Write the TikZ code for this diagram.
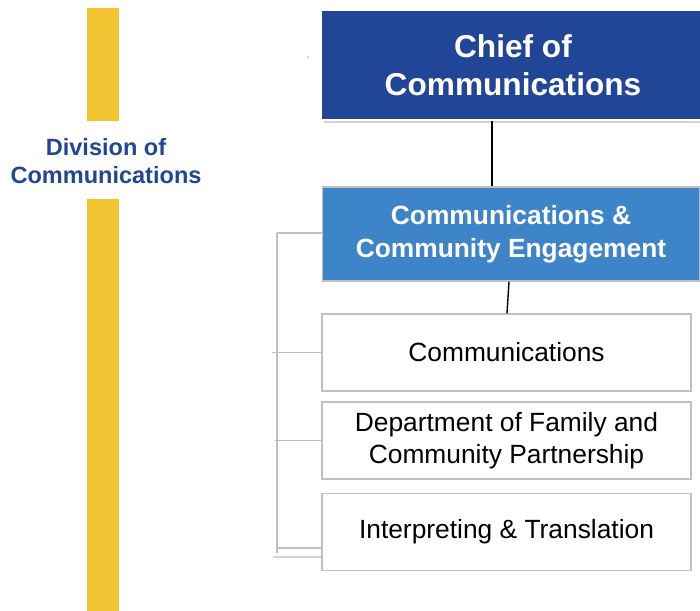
\documentclass[tikz,border=0pt]{standalone}
\usepackage{fontspec}
\setmainfont{Liberation Sans}
\usetikzlibrary{positioning,shadows}

\definecolor{chiefblue}{RGB}{33,70,152}
\definecolor{engblue}{RGB}{62,132,200}
\definecolor{divgold}{RGB}{242,196,50}
\definecolor{linegray}{RGB}{192,192,192}

\tikzset{
  chiefbox/.style={fill=chiefblue, draw=white, line width=1.5pt, text=white,
    minimum width=7.68cm, minimum height=2.2cm, align=center,
    font=\fontsize{18}{21.6}\selectfont\bfseries,
    drop shadow={opacity=0.35, shadow xshift=1.5pt, shadow yshift=-1.5pt}},
  engbox/.style={fill=engblue, draw=linegray, line width=0.8pt, text=white,
    minimum width=7.54cm, minimum height=1.88cm, align=center,
    font=\fontsize{15}{18.7}\selectfont\bfseries},
  unitbox/.style={fill=white, draw=linegray, line width=0.8pt,
    minimum width=7.38cm, minimum height=1.54cm, align=center,
    font=\fontsize{15}{18}\selectfont},
  bracket/.style={draw=linegray, line width=0.8pt}
}

\begin{document}
\begin{tikzpicture}[x=0.02cm, y=-0.02cm]
  \useasboundingbox (0,0) rectangle (700,611);
  % division bar
  \fill[divgold] (87,8) rectangle (119,121);
  \fill[divgold] (87,199) rectangle (119,611);
  \node[text=chiefblue, align=center, font=\fontsize{13.4}{16}\selectfont\bfseries]
    (division) at (106,161) {Division of\\Communications};
  \fill[black!60] (308,57) circle (0.6);

  % boxes
  \node[chiefbox] (chief) at (513,65) {Chief of\\Communications};
  \node[engbox] (eng) at (511,234) {Communications \&\\Community Engagement};
  \node[unitbox] (comm) at (506.5,352.5) {Communications};
  \node[unitbox] (family) at (506.5,440.5) {Department of Family and\\Community Partnership};
  \node[unitbox] (interp) at (506.5,532) {Interpreting \& Translation};

  % connectors
  \draw[line width=0.8pt] (chief.south -| 492,0) -- (eng.north -| 492,0);
  \draw[line width=0.8pt] (eng.south -| 509,0) -- (comm.north -| 507,0);

  % side bracket
  \coordinate (btop) at (277,233);
  \coordinate (bbot) at (277,553);
  \draw[bracket] (btop) -- (bbot);
  \draw[bracket] (btop) -- (eng.west |- btop);
  \draw[bracket] (272,352.5) -- (comm.west);
  \draw[bracket] (275,440.5) -- (family.west);
  \draw[bracket] (277,548) -- (interp.west |- 0,548);
  \draw[bracket, draw=linegray!70] (273,557) -- (interp.west |- 0,557);
\end{tikzpicture}
\end{document}
